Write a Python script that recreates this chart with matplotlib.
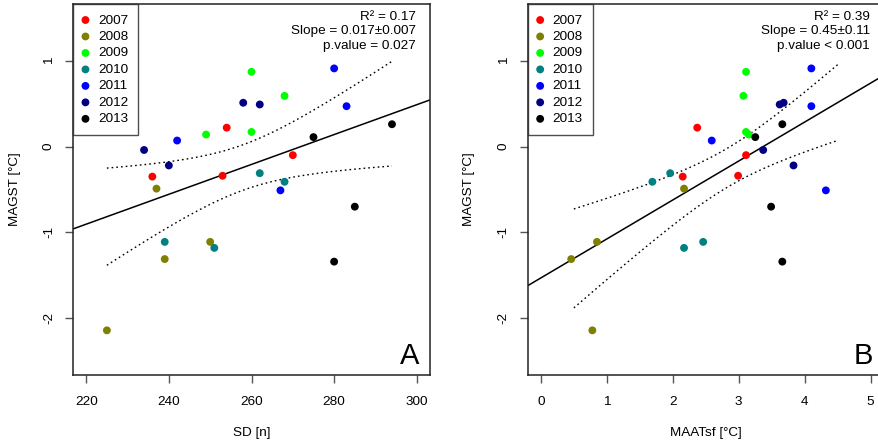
import numpy as np
import matplotlib
matplotlib.use("Agg")
import matplotlib.pyplot as plt

plt.rcParams['font.family'] = ['Liberation Sans', 'DejaVu Sans']

# data: one point per site and year
years = [2007, 2007, 2007, 2007,
         2008, 2008, 2008, 2008,
         2009, 2009, 2009, 2009,
         2010, 2010, 2010, 2010,
         2011, 2011, 2011, 2011,
         2012, 2012, 2012, 2012,
         2013, 2013, 2013, 2013]
sd = [236, 253, 254, 270,
      237, 250, 239, 225,
      260, 268, 249, 260,
      262, 268, 239, 251,
      280, 283, 242, 267,
      234, 258, 262, 240,
      275, 294, 285, 280]
maatsf = [2.15, 2.99, 2.37, 3.11,
          2.17, 0.85, 0.46, 0.78,
          3.11, 3.07, 3.15, 3.11,
          1.96, 1.69, 2.46, 2.17,
          4.10, 4.10, 2.59, 4.32,
          3.37, 3.68, 3.62, 3.83,
          3.25, 3.66, 3.49, 3.66]
magst = [-0.35, -0.34, 0.22, -0.10,
         -0.49, -1.11, -1.31, -2.14,
         0.87, 0.59, 0.14, 0.17,
         -0.31, -0.41, -1.11, -1.18,
         0.91, 0.47, 0.07, -0.51,
         -0.04, 0.51, 0.49, -0.22,
         0.11, 0.26, -0.70, -1.34]

year_list = [2007, 2008, 2009, 2010, 2011, 2012, 2013]
year_colors = ['#FF0000', '#808000', '#00FF00', '#008080', '#0000FF', '#000080', '#000000']

stats_a = ['R\u00b2 = 0.17', 'Slope = 0.017\u00b10.007', 'p.value = 0.027']
stats_b = ['R\u00b2 = 0.39', 'Slope = 0.45\u00b10.11', 'p.value < 0.001']

T975 = 2.0555  # t quantile, df = 26

fs = 9.7
W, H = 879, 445
fig = plt.figure(figsize=(W / 100, H / 100), dpi=100)
ax_a = fig.add_axes([73 / W, 70 / H, 357 / W, 371 / H])
ax_b = fig.add_axes([527.7 / W, 70 / H, 356.2 / W, 371 / H])


def panel(ax, x, xlim, xticks, xlabel, band_x, stats, letter):
    x = np.array(x, float)
    y = np.array(magst, float)
    yr = np.array(years)
    for year, col in zip(year_list, year_colors):
        m = yr == year
        ax.scatter(x[m], y[m], s=32, color=col, edgecolors='none', label=str(year), zorder=3)

    # linear fit and 95% confidence band of the mean
    b, a = np.polyfit(x, y, 1)
    n = len(x)
    s = np.sqrt(np.sum((y - (a + b * x)) ** 2) / (n - 2))
    sxx = np.sum((x - x.mean()) ** 2)
    pad = (xlim[1] - xlim[0]) * 0.04
    xl = np.array([xlim[0] - pad, xlim[1] + pad])
    ax.plot(xl, a + b * xl, color='black', lw=1.1, zorder=2)
    xs = np.linspace(band_x[0], band_x[1], 100)
    se = s * np.sqrt(1 / n + (xs - x.mean()) ** 2 / sxx)
    for sign in (1, -1):
        ax.plot(xs, a + b * xs + sign * T975 * se, color='black', lw=1,
                linestyle=(0, (1.2, 2.2)), zorder=2)

    ax.set_xlim(xl)
    ax.set_ylim(-2.5 - 0.16, 1.5 + 0.16)
    ax.set_xticks(xticks)
    ax.set_yticks([-2, -1, 0, 1])
    ax.set_yticklabels(['-2', '-1', '0', '1'], rotation=90, va='center')
    ax.tick_params(length=6, width=1, color='#555555', labelsize=fs, pad=7)
    ax.tick_params(axis='x', pad=9)
    for sp in ax.spines.values():
        sp.set_color('#222222')
        sp.set_linewidth(1.1)
    ax.set_xlabel(xlabel, fontsize=fs, labelpad=14)
    ax.set_ylabel('MAGST [\u00b0C]', fontsize=fs, labelpad=16)

    leg = ax.legend(loc='upper left', borderaxespad=0, fontsize=fs, frameon=True,
                    fancybox=False, edgecolor='#222222', handlelength=0.35,
                    handletextpad=0.75, labelspacing=0.3, borderpad=0.75,
                    scatterpoints=1, markerscale=1.0)
    leg.get_frame().set_linewidth(1.0)

    for i, t in enumerate(stats):
        ax.text(0.96, 0.966 - i * 0.040, t, transform=ax.transAxes, ha='right',
                va='center', fontsize=fs)
    ax.text(0.942, 0.03, letter, transform=ax.transAxes, ha='center', va='baseline',
            fontsize=21)


panel(ax_a, sd, (220, 300), [220, 240, 260, 280, 300], 'SD [n]',
      (min(sd), max(sd)), stats_a, 'A')
panel(ax_b, maatsf, (0, 5), [0, 1, 2, 3, 4, 5], 'MAATsf [\u00b0C]',
      (0.5, 4.5), stats_b, 'B')

fig.savefig('out.png', dpi=100)
